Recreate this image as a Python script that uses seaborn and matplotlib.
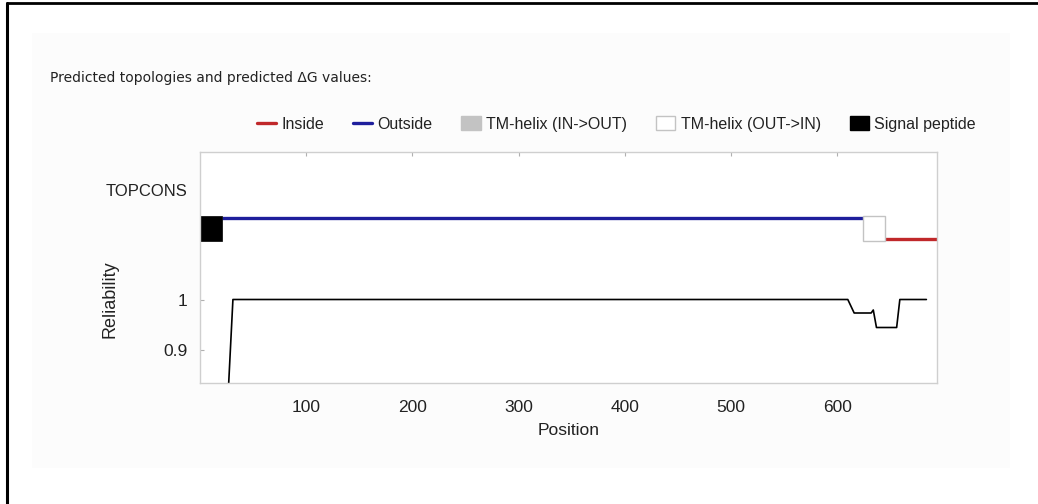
import matplotlib
matplotlib.use("Agg")
import matplotlib.pyplot as plt
from matplotlib.patches import Rectangle
from matplotlib.lines import Line2D
import seaborn as sns
import pandas as pd

# reliability trace (position, value)
rel_position = [26, 31, 610, 616, 632, 634, 637, 656, 659, 684]
rel_value = [0.79, 1.0, 1.0, 0.973, 0.973, 0.979, 0.944, 0.944, 1.0, 1.0]

# predicted topology segments (start, end)
signal_peptide = (1, 21)
outside = (21, 624)
tm_out_in = (624, 645)
inside = (645, 694)

x_ticks = [100, 200, 300, 400, 500, 600]
y_ticks = [0.9, 1.0]
y_tick_labels = ["0.9", "1"]

RED = "#c0282a"
BLUE = "#1e1e9c"
GREY = "#c3c3c3"

sns.set_style("white")
plt.rcParams['font.family'] = ['Liberation Sans', 'DejaVu Sans']

fig = plt.figure(figsize=(10.38, 5.04), dpi=100)
fig.patch.set_facecolor("white")

# faint panel behind the figure, and the cropped black frame
fig.patches.append(Rectangle((32 / 1038, 1 - 468 / 504), 978 / 1038, 435 / 504,
                             transform=fig.transFigure, facecolor="#fcfcfc",
                             edgecolor="none", zorder=-10))
fig.lines.append(Line2D([7 / 1038, 7 / 1038], [0, 1 - 3 / 504], transform=fig.transFigure,
                        color="black", lw=2.2))
fig.lines.append(Line2D([7 / 1038, 1], [1 - 3 / 504, 1 - 3 / 504], transform=fig.transFigure,
                        color="black", lw=2.0))

fig.text(50 / 1038, 1 - 78 / 504, "Predicted topologies and predicted \u0394G values:",
         family="DejaVu Sans", fontsize=10, color="#222222", va="center", ha="left")

ax = fig.add_axes([200 / 1038, 1 - 383 / 504, 737 / 1038, 231 / 504])
ax.set_facecolor("white")

df = pd.DataFrame({"Position": rel_position, "Reliability": rel_value})
sns.lineplot(data=df, x="Position", y="Reliability", ax=ax, color="black", lw=1.2,
             estimator=None, sort=False)

# topology track
ax.hlines(1.164, outside[0], outside[1], color=BLUE, lw=2.4)
ax.hlines(1.122, inside[0], inside[1], color=RED, lw=2.4)
ax.add_patch(Rectangle((tm_out_in[0], 1.117), tm_out_in[1] - tm_out_in[0], 0.051,
                       facecolor="white", edgecolor=GREY, lw=1.0, zorder=3))
ax.add_patch(Rectangle((signal_peptide[0], 1.117), signal_peptide[1] - signal_peptide[0], 0.051,
                       facecolor="black", edgecolor="black", lw=0.5, zorder=3))

ax.set_xlim(0, 694)
ax.set_ylim(0.833, 1.295)
ax.set_xticks(x_ticks)
ax.set_xticklabels([str(t) for t in x_ticks])
ax.set_yticks(y_ticks)
ax.set_yticklabels(y_tick_labels)
ax.tick_params(axis="both", direction="in", length=3, color="#b0b0b0", labelsize=12.5,
               labelcolor="#222222", pad=9)
ax.tick_params(axis="x", top=True, pad=12)
ax.tick_params(axis="y", left=True)
for s in ax.spines.values():
    s.set_color("#cfcfcf")
    s.set_linewidth(1.0)

ax.set_xlabel("Position", fontsize=12.5, color="#222222", labelpad=6)
ax.set_ylabel("")
ax.text(-0.122, 1.0, "Reliability", transform=ax.get_yaxis_transform(), rotation=90,
        fontsize=13, color="#222222", ha="center", va="center")
ax.text(-0.017, 1.217, "TOPCONS", transform=ax.get_yaxis_transform(),
        fontsize=12, color="#222222", ha="right", va="center")

handles = [
    Line2D([], [], color=RED, lw=2.4),
    Line2D([], [], color=BLUE, lw=2.4),
    Rectangle((0, 0), 1, 1, facecolor=GREY, edgecolor=GREY),
    Rectangle((0, 0), 1, 1, facecolor="white", edgecolor=GREY),
    Rectangle((0, 0), 1, 1, facecolor="black", edgecolor="black"),
]
labels = ["Inside", "Outside", "TM-helix (IN->OUT)", "TM-helix (OUT->IN)", "Signal peptide"]
fig.legend(handles, labels, loc="center right", bbox_to_anchor=(984 / 1038, 1 - 124 / 504),
           ncol=5, frameon=False, fontsize=11.5, handlelength=1.2, handleheight=0.9,
           handletextpad=0.35, columnspacing=1.8, borderpad=0, labelcolor="#222222")

fig.savefig("out.png", dpi=100)
